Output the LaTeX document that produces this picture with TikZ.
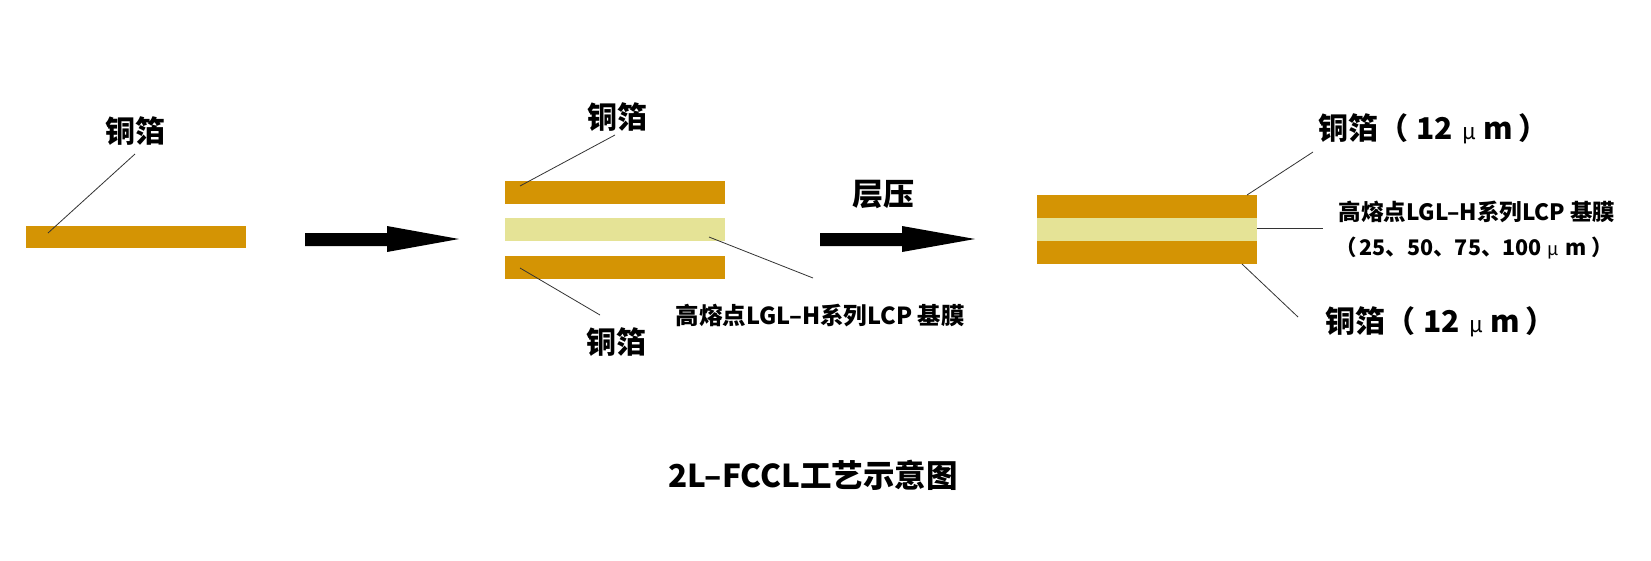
\documentclass[tikz,border=0pt]{standalone}
\usepackage{fontspec}
\newfontfamily\cjk{Noto Sans CJK SC}
\definecolor{copper}{RGB}{212,148,4}
\definecolor{lcp}{RGB}{229,227,150}
\newcommand{\mylbl}{铜箔（\hspace{8pt}12\hspace{10pt}{\mdseries\fontsize{22}{26}\selectfont μ}\hspace{7pt}m\hspace{5pt}）}
\begin{document}
\begin{tikzpicture}[x=1pt,y=-1pt,
  lbl/.style={font=\cjk\bfseries, inner sep=0pt, text=black},
  bar/.style={draw=none, inner sep=0pt, anchor=north west, outer sep=0pt},
  leader/.style={line width=0.8pt, black!80},
  bigarrow/.style={fill=black, draw=none}]
\useasboundingbox[fill=white] (0,0) rectangle (1651,560);
% stage 1
\node[bar, fill=copper, minimum width=220pt, minimum height=22pt] (c1) at (26,226) {};
\node[lbl, font=\cjk\bfseries\fontsize{30}{34}\selectfont] (l1) at (135,131) {铜箔};
\coordinate (q1) at (135,154);
\coordinate (p1) at (48,233);
\draw[leader] (q1) -- (p1);
% arrow 1
\fill[bigarrow] (305,233) -- (387,233) -- (387,226) -- (459,239) -- (387,252) -- (387,246) -- (305,246) -- cycle;
% stage 2
\node[bar, fill=copper, minimum width=220pt, minimum height=23pt] (c2t) at (505,181) {};
\node[bar, fill=lcp, minimum width=220pt, minimum height=23pt] (f2) at (505,218) {};
\node[bar, fill=copper, minimum width=220pt, minimum height=23pt] (c2b) at (505,256) {};
\node[lbl, font=\cjk\bfseries\fontsize{30}{34}\selectfont] (l2t) at (617,117) {铜箔};
\node[lbl, font=\cjk\bfseries\fontsize{30}{34}\selectfont] (l2b) at (616,342) {铜箔};
\node[lbl, font=\cjk\bfseries\fontsize{23.5}{27}\selectfont] (l2f) at (820,316) {高熔点LGL–H系列LCP 基膜};
\coordinate (a2t) at (615,135); \coordinate (b2t) at (520,186);
\coordinate (a2b) at (520,268); \coordinate (b2b) at (600,315);
\coordinate (a2f) at (709,237); \coordinate (b2f) at (813,278);
\draw[leader] (a2t) -- (b2t);
\draw[leader] (a2b) -- (b2b);
\draw[leader] (a2f) -- (b2f);
% arrow 2
\node[lbl, font=\cjk\bfseries\fontsize{31}{35}\selectfont] (press) at (883,195) {层压};
\fill[bigarrow] (820,233) -- (902,233) -- (902,226) -- (975,239) -- (902,252) -- (902,246) -- (820,246) -- cycle;
% stage 3
\node[bar, fill=copper, minimum width=220pt, minimum height=23pt] (c3t) at (1037,195) {};
\node[bar, fill=lcp, minimum width=220pt, minimum height=23pt] (f3) at (1037,218) {};
\node[bar, fill=copper, minimum width=220pt, minimum height=23pt] (c3b) at (1037,241) {};
\node[lbl, font=\cjk\bfseries\fontsize{30}{34}\selectfont, anchor=west] (l3t) at (1318,129) {\mylbl};
\node[lbl, font=\cjk\bfseries\fontsize{30}{34}\selectfont, anchor=west] (l3b) at (1325,322) {\mylbl};
\node[lbl, font=\cjk\bfseries\fontsize{22.5}{26}\selectfont] (l3f) at (1477,212) {高熔点LGL–H系列LCP 基膜};
\node[lbl, font=\cjk\bfseries\fontsize{21.5}{25}\selectfont] (l3n) at (1474,248) {（\hspace{3pt}25、50、75、100\hspace{6pt}{\mdseries\fontsize{18}{22}\selectfont μ}\hspace{6pt}m\hspace{5pt}）};
\coordinate (a3t) at (1313,152); \coordinate (b3t) at (1247,195);
\coordinate (a3f) at (1257,228); \coordinate (b3f) at (1323,228);
\coordinate (a3b) at (1242,264); \coordinate (b3b) at (1298,317);
\draw[leader] (a3t) -- (b3t);
\draw[leader] (a3f) -- (b3f);
\draw[leader] (a3b) -- (b3b);
% title
\node[lbl, font=\cjk\bfseries\fontsize{31.5}{35}\selectfont] (title) at (813,475) {2L–FCCL工艺示意图};
\end{tikzpicture}
\end{document}
